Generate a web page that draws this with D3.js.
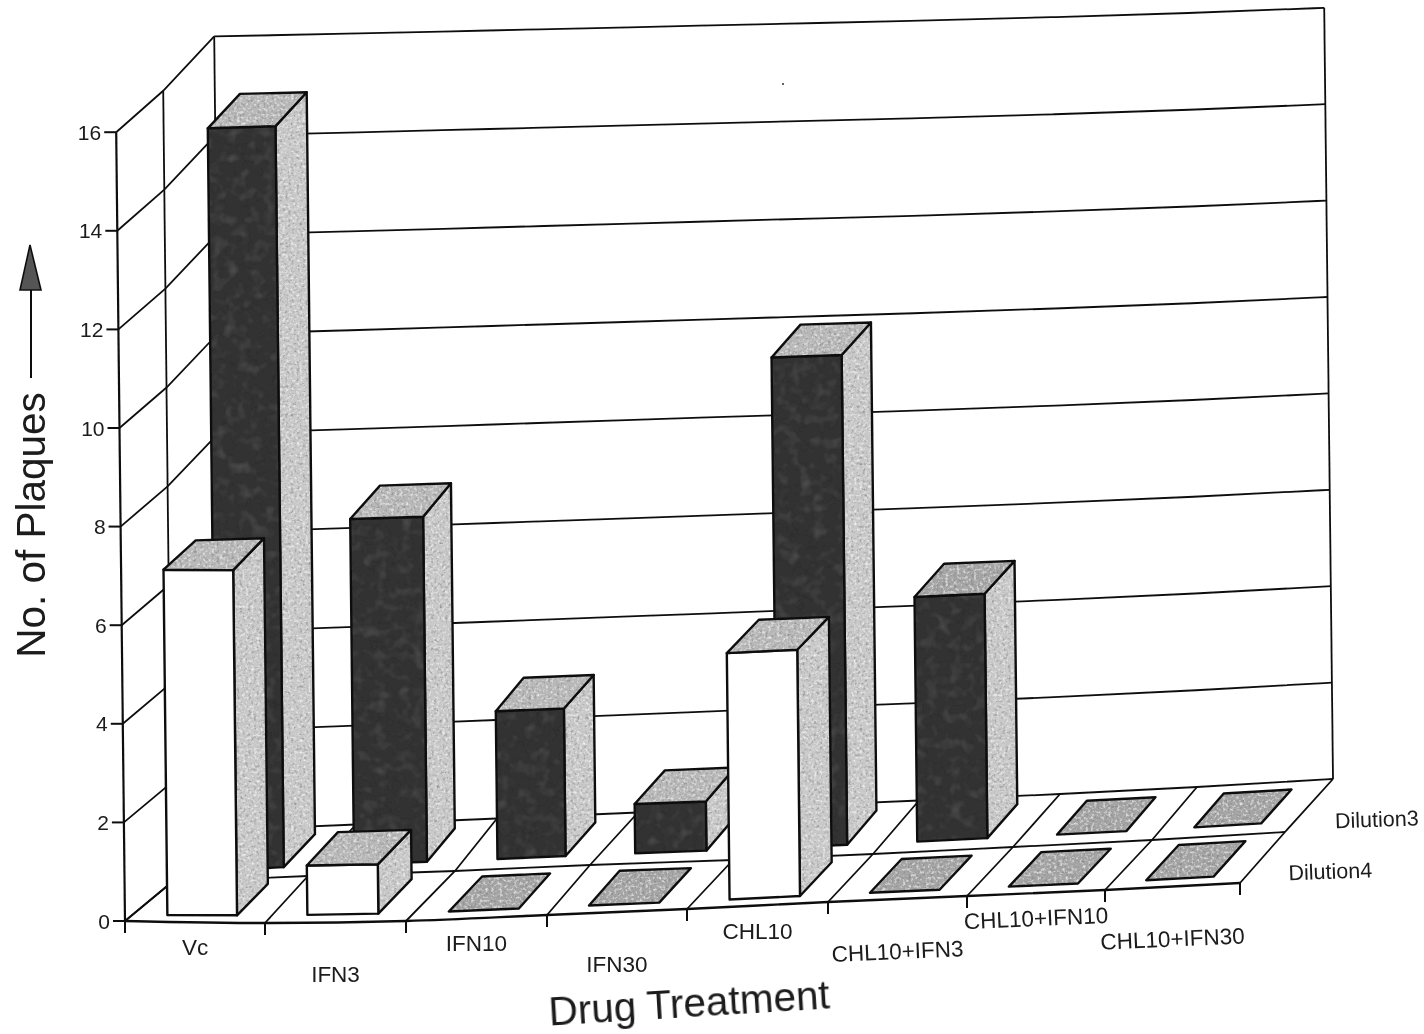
<!DOCTYPE html>
<html>
<head>
<meta charset="utf-8">
<script src="https://cdn.jsdelivr.net/npm/d3@7"></script>
<style>
  html, body { margin: 0; padding: 0; background: #fff; }
  svg { display: block; }
  text { font-family: "Liberation Sans", Arial, sans-serif; fill: #1a1a1a; }
</style>
</head>
<body>
<div id="my_datavis"></div>
<script>
// chart values
const categories = ["Vc", "IFN3", "IFN10", "IFN30", "CHL10", "CHL10+IFN3", "CHL10+IFN10", "CHL10+IFN30"];
const dilution3 = [15, 7, 3, 1, 10, 5, 0, 0];
const dilution4 = [7, 1, 0, 0, 5, 0, 0, 0];
const yTicks = [0, 2, 4, 6, 8, 10, 12, 14, 16];
const rowNames = ["Dilution4", "Dilution3"];

const width = 1424;
const height = 1034;

// floor outline at each category boundary: front edge, middle line, back wall
const boundaries = d3.range(0, 9);
const frontX = d3.scaleLinear().domain(boundaries).range([125, 265, 406, 547, 687, 828, 967, 1105, 1240]);
const frontY = d3.scaleLinear().domain(boundaries).range([921, 923, 921, 915, 909, 902, 896, 890, 883]);
const midX = d3.scaleLinear().domain(boundaries).range([172, 308, 455, 590, 733, 873, 1013, 1152, 1285]);
const midY = d3.scaleLinear().domain(boundaries).range([882, 876, 871, 865, 860, 854, 847, 840, 832]);
const backX = d3.scaleLinear().domain(boundaries).range([223, 356, 497, 638, 778, 919, 1060, 1197, 1333]);
const backY = d3.scaleLinear().domain(boundaries).range([830, 824.5, 818.5, 812.5, 806.5, 800.5, 794, 787, 779]);

const yUnitFront = 49.3;
const yUnitBack = d3.scaleLinear().domain([0, 8]).range([49.6, 48.2]);
const lean = 0.55;

// c = position along the categories, d = depth 0..2, v = plaques
function project(c, d, v) {
  const depth = d3.scaleLinear().domain([0, 1, 2]);
  const x = depth.range([frontX(c), midX(c), backX(c)])(d);
  const y = depth.range([frontY(c), midY(c), backY(c)])(d);
  const unit = d3.scaleLinear().domain([0, 2]).range([yUnitFront, yUnitBack(c)])(d);
  return [x - v * lean, y - v * unit];
}

const svg = d3.select("#my_datavis").append("svg")
  .attr("width", width)
  .attr("height", height);

const defs = svg.append("defs");

// soft blotchy print grain, dark and light specks clipped to the face
function speckle(id, freq, dark, light) {
  const f = defs.append("filter").attr("id", id)
    .attr("x", "-5%").attr("y", "-5%").attr("width", "110%").attr("height", "110%");
  f.append("feTurbulence").attr("type", "fractalNoise")
    .attr("baseFrequency", freq).attr("numOctaves", 2).attr("seed", 4).attr("result", "noiseA");
  f.append("feColorMatrix").attr("in", "noiseA").attr("type", "matrix")
    .attr("values", `0 0 0 0 0.2  0 0 0 0 0.2  0 0 0 0 0.2  ${dark} 0 0 0 ${-dark * 0.5}`)
    .attr("result", "darkDots");
  f.append("feTurbulence").attr("type", "fractalNoise")
    .attr("baseFrequency", freq).attr("numOctaves", 2).attr("seed", 11).attr("result", "noiseB");
  f.append("feColorMatrix").attr("in", "noiseB").attr("type", "matrix")
    .attr("values", `0 0 0 0 1  0 0 0 0 1  0 0 0 0 1  ${light} 0 0 0 ${-light * 0.5}`)
    .attr("result", "lightDots");
  const stack = f.append("feMerge").attr("result", "dots");
  stack.append("feMergeNode").attr("in", "darkDots");
  stack.append("feMergeNode").attr("in", "lightDots");
  f.append("feGaussianBlur").attr("in", "dots").attr("stdDeviation", 0.5).attr("result", "softDots");
  f.append("feComposite").attr("in", "softDots").attr("in2", "SourceAlpha").attr("operator", "in").attr("result", "clipped");
  const merge = f.append("feMerge");
  merge.append("feMergeNode").attr("in", "SourceGraphic");
  merge.append("feMergeNode").attr("in", "clipped");
}
speckle("grain", 0.35, 2, 1.8);
speckle("grainDark", 0.08, 0.25, 0.08);

const soft = defs.append("filter").attr("id", "scan")
  .attr("filterUnits", "userSpaceOnUse")
  .attr("x", 0).attr("y", 0).attr("width", width).attr("height", height);
soft.append("feGaussianBlur").attr("stdDeviation", 0.6);

const root = svg.append("g").attr("filter", "url(#scan)");

const wire = d3.line();
const smooth = d3.line().curve(d3.curveMonotoneX);
const strokeCol = "#111";

function drawLine(pts, w, gen) {
  root.append("path")
    .attr("d", (gen || wire)(pts))
    .attr("fill", "none")
    .attr("stroke", strokeCol)
    .attr("stroke-width", w || 1.8);
}

// back wall grid lines
yTicks.forEach((v) => {
  drawLine(boundaries.map((c) => project(c, 2, v)), 1.8, smooth);
  drawLine([project(0, 0, v), project(0, 1, v), project(0, 2, v)]);
});

// wall verticals
[0, 1, 2].forEach((d) => {
  drawLine([project(0, d, 0), project(0, d, 16)], d === 0 ? 2.2 : 1.8);
});
drawLine([project(8, 2, 0), project(8, 2, 16)]);

// floor
drawLine(boundaries.map((c) => project(c, 0, 0)), 2.4, smooth);
drawLine(boundaries.map((c) => project(c, 1, 0)), 1.8, smooth);
boundaries.forEach((c) => {
  drawLine([project(c, 0, 0), project(c, 1, 0), project(c, 2, 0)]);
  const p = project(c, 0, 0);
  drawLine([p, [p[0], p[1] + 12]], 2);
});

// y ticks and labels
yTicks.forEach((v) => {
  const p = project(0, 0, v);
  drawLine([[p[0] - 12, p[1]], p], 2);
  root.append("text")
    .attr("x", p[0] - 15)
    .attr("y", p[1])
    .attr("dy", "0.36em")
    .attr("text-anchor", "end")
    .attr("font-size", 21)
    .text(v);
});

// bars, back row first so the front row sits on top of it
const barStart = 0.25;
const barEnd = 0.75;
const rowDepth = [[0.16, 0.86], [0.2, 0.84]];

function face(pts, fill, filterId) {
  const path = wire(pts) + "Z";
  root.append("path").attr("d", path).attr("fill", fill)
    .attr("filter", filterId ? `url(#${filterId})` : null);
  root.append("path").attr("d", path).attr("fill", "none")
    .attr("stroke", strokeCol).attr("stroke-width", 2.4)
    .attr("stroke-linejoin", "round");
}

function drawRow(values, row, frontFill, frontFilter) {
  values.forEach((v, i) => {
    const c0 = i + barStart;
    const c1 = i + barEnd;
    const d0 = row + rowDepth[row][0];
    const d1 = row + rowDepth[row][1];
    if (v > 0) {
      face([project(c1, d0, 0), project(c1, d1, 0), project(c1, d1, v), project(c1, d0, v)], "#c9c9c9", "grain");
      face([project(c0, d0, 0), project(c1, d0, 0), project(c1, d0, v), project(c0, d0, v)], frontFill, frontFilter);
    }
    const topFill = (v === 5 && row === 1) || v === 0 ? "#a4a4a4" : "#b8b8b8";
    face([project(c0, d0, v), project(c1, d0, v), project(c1, d1, v), project(c0, d1, v)], topFill, "grain");
  });
}

drawRow(dilution3, 1, "#333", "grainDark");
drawRow(dilution4, 0, "#fff", null);

// category labels, staggered in two rows under the front edge
categories.forEach((name, i) => {
  const cx = frontX(i + 0.5);
  const cy = frontY(i + 0.5) + (i % 2 ? 52 : 25);
  const tilt = name.length > 6 ? -2.5 : 0;
  root.append("text")
    .attr("transform", `translate(${cx},${cy}) rotate(${tilt})`)
    .attr("dy", "0.36em")
    .attr("text-anchor", "middle")
    .attr("font-size", 22.5)
    .text(name);
});

// row labels, right of the floor
rowNames.forEach((name, row) => {
  const p = project(8, row + 0.5, 0);
  root.append("text")
    .attr("transform", `translate(${p[0] + 26},${p[1] + 15}) rotate(-2)`)
    .attr("dy", "0.36em")
    .attr("font-size", 21.5)
    .text(name);
});

// axis titles
root.append("text")
  .attr("transform", "translate(689,1002) rotate(-3.5)")
  .attr("dy", "0.36em")
  .attr("text-anchor", "middle")
  .attr("font-size", 40.5)
  .text("Drug Treatment");

root.append("text")
  .attr("transform", "translate(30,525) rotate(-90)")
  .attr("dy", "0.36em")
  .attr("text-anchor", "middle")
  .attr("font-size", 40.5)
  .text("No. of Plaques");

// arrow above the y title
drawLine([[31, 290], [31, 378]], 2);
root.append("path")
  .attr("d", wire([[30, 245], [20, 290], [41, 290]]) + "Z")
  .attr("fill", "#555")
  .attr("stroke", strokeCol)
  .attr("stroke-width", 1.6);

// speck on the scan
root.append("circle").attr("cx", 783).attr("cy", 84).attr("r", 1).attr("fill", "#333");
</script>
</body>
</html>
